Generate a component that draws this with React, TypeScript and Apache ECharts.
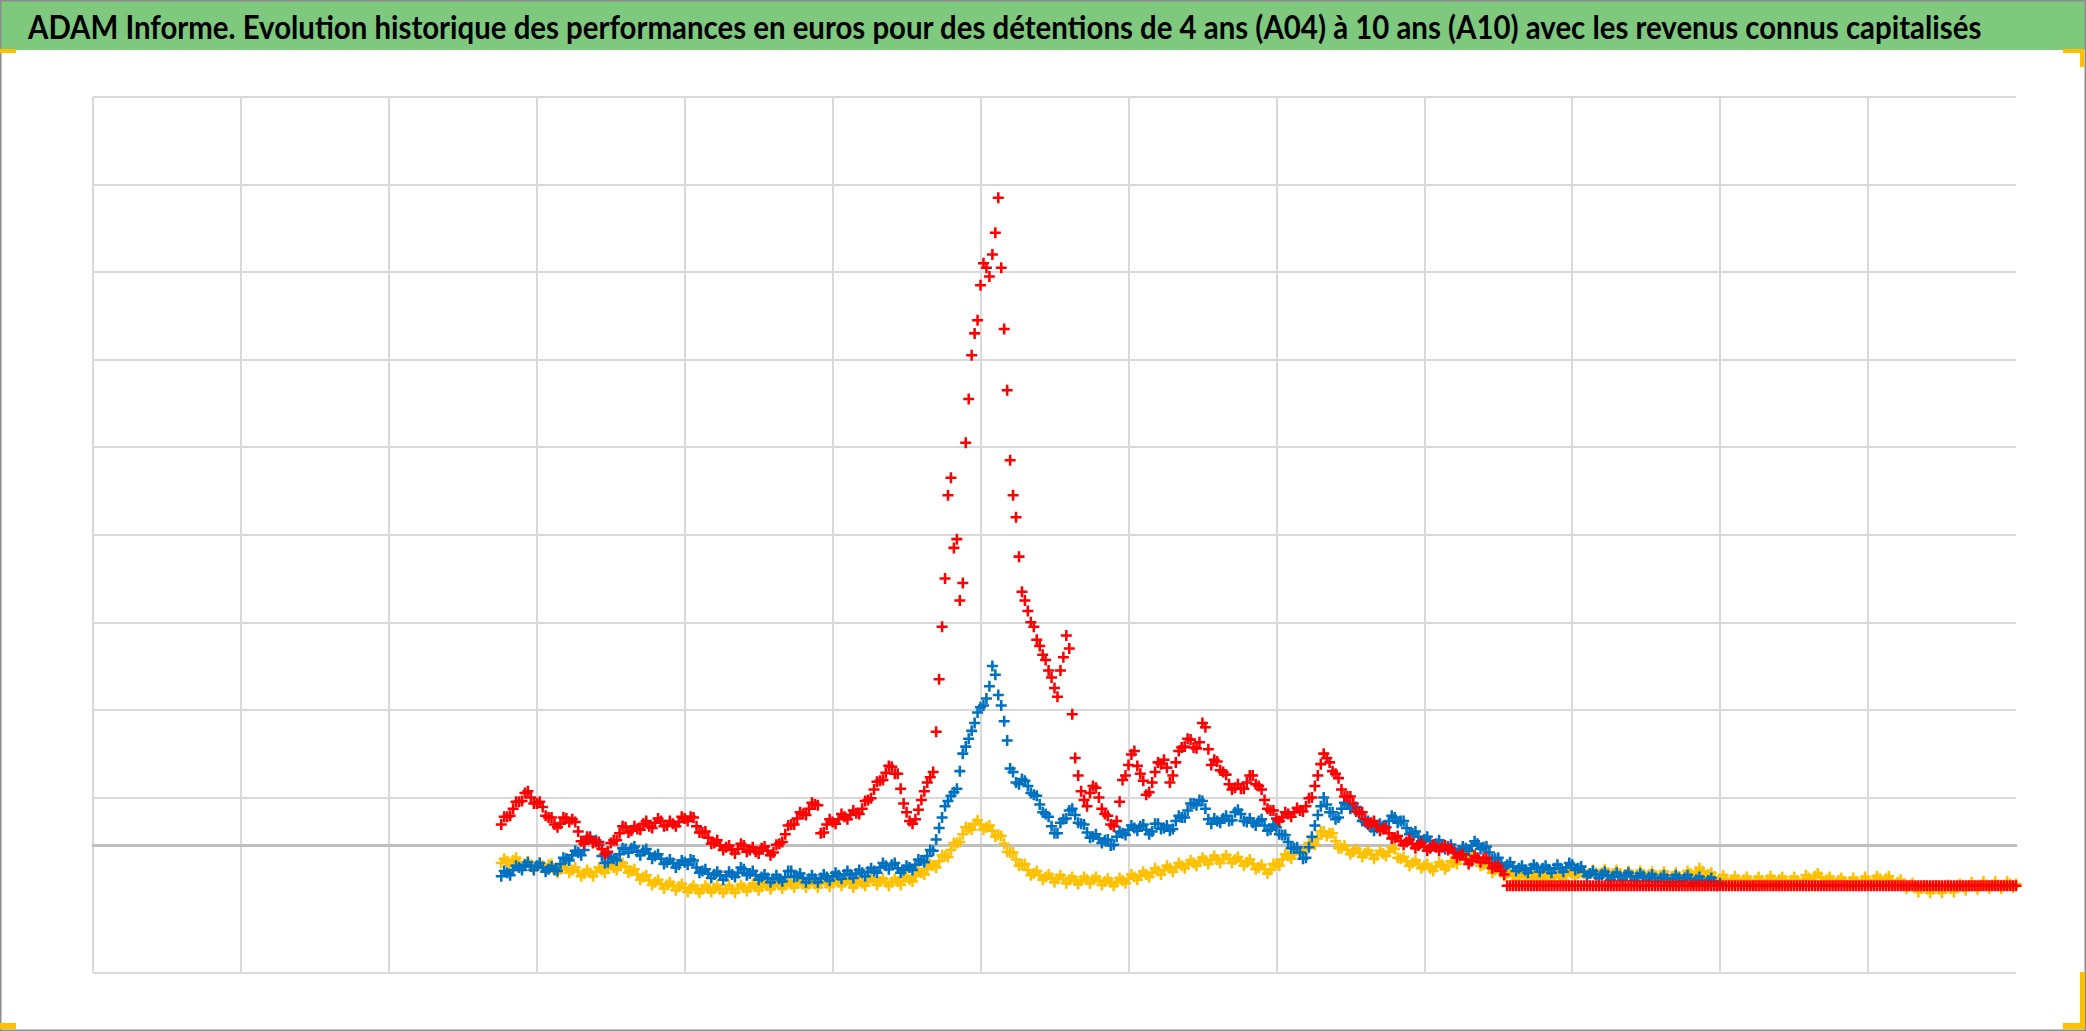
import React, { useEffect, useRef } from "react";
import * as echarts from "echarts";

const TITLE =
  "ADAM Informe. Evolution historique des performances en euros pour des détentions de 4 ans (A04) à 10 ans (A10) avec les revenus connus capitalisés";

// x positions: regular sampling along the horizontal axis (13 grid intervals)
const X_START = 2.76;
const X_STEP = 0.02;

// Yellow series (A04)
const A04 = [
  -20, -15, -18, -22, -17, -14, -19, -24, -21, -18, -22, -27, -24, -20, -23, -27, -22, -21, -27, -31,
  -27, -23, -26, -31, -28, -25, -30, -35, -32, -28, -31, -35, -30, -25, -28, -31, -26, -22, -25, -28,
  -23, -20, -24, -31, -29, -27, -33, -39, -36, -34, -40, -45, -42, -39, -44, -49, -45, -42, -46, -51,
  -47, -44, -48, -53, -49, -46, -50, -54, -50, -46, -49, -53, -49, -46, -50, -54, -50, -46, -50, -54,
  -49, -45, -48, -52, -48, -44, -47, -51, -47, -43, -46, -50, -46, -42, -45, -49, -45, -41, -44, -48,
  -43, -40, -44, -48, -44, -40, -44, -48, -43, -39, -43, -47, -43, -39, -42, -46, -42, -39, -43, -48,
  -44, -40, -43, -46, -41, -37, -40, -45, -41, -38, -42, -46, -42, -38, -41, -45, -40, -36, -39, -41,
  -35, -29, -31, -33, -27, -21, -23, -25, -18, -11, -12, -13, -5, 3, 3, 4, 13, 21, 20, 18,
  25, 29, 24, 18, 21, 23, 17, 10, 12, 11, 2, -7, -8, -8, -16, -23, -22, -21, -28, -34,
  -32, -29, -34, -39, -36, -33, -37, -42, -38, -34, -38, -43, -39, -36, -40, -44, -40, -36, -39, -43,
  -39, -36, -40, -45, -41, -38, -42, -46, -42, -37, -40, -43, -38, -33, -36, -39, -34, -30, -33, -36,
  -31, -26, -29, -33, -28, -23, -26, -30, -25, -20, -23, -26, -21, -17, -20, -23, -18, -14, -17, -21,
  -16, -12, -16, -20, -15, -11, -15, -20, -16, -13, -18, -23, -19, -16, -21, -27, -25, -22, -27, -32,
  -28, -21, -21, -23, -16, -10, -12, -15, -10, -5, -8, -10, -4, 3, 2, 1, 8, 16, 16, 11,
  14, 14, 5, -3, -3, 0, -5, -10, -7, -4, -8, -13, -9, -6, -10, -15, -11, -6, -9, -12,
  -7, -2, -4, -14, -15, -13, -18, -23, -20, -17, -21, -26, -23, -21, -26, -29, -24, -19, -22, -27,
  -24, -18, -19, -21, -14, -9, -12, -17, -13, -10, -15, -23, -22, -20, -25, -31, -28, -25, -30, -35,
  -32, -30, -35, -39, -35, -32, -36, -40, -36, -33, -37, -41, -37, -33, -37, -41, -36, -32, -36, -39,
  -34, -29, -32, -36, -32, -28, -32, -36, -32, -28, -31, -35, -31, -27, -31, -36, -32, -28, -32, -37,
  -33, -29, -33, -37, -33, -29, -33, -37, -33, -30, -34, -38, -34, -30, -34, -39, -35, -31, -35, -39,
  -34, -29, -32, -35, -30, -26, -29, -35, -33, -31, -36, -41, -38, -34, -38, -43, -39, -35, -39, -43,
  -39, -36, -40, -44, -40, -36, -40, -44, -39, -35, -39, -43, -39, -36, -40, -44, -40, -36, -40, -44,
  -39, -34, -37, -40, -35, -32, -36, -42, -39, -36, -40, -44, -40, -37, -41, -45, -41, -37, -41, -45,
  -40, -36, -40, -44, -39, -35, -38, -42, -38, -35, -40, -45, -42, -39, -44, -49, -46, -43, -48, -53,
  -49, -46, -50, -54, -50, -46, -50, -54, -49, -45, -49, -53, -48, -44, -47, -51, -46, -42, -46, -50,
  -45, -41, -45, -49, -45, -41, -45, -49, -45, -41, -44, -48, -44,
];

// Blue series (A07)
const A07 = [
  -35, -29, -31, -34, -28, -23, -25, -28, -22, -19, -24, -28, -23, -20, -25, -30, -27, -24, -28, -29,
  -21, -14, -15, -17, -11, -6, -8, -11, -5, 7, 10, 4, 6, 1, -12, -20, -19, -13, -15, -17,
  -10, -3, -4, -8, -3, -1, -7, -11, -6, -4, -9, -15, -12, -10, -15, -21, -19, -16, -20, -25,
  -22, -17, -19, -22, -16, -17, -25, -31, -29, -27, -32, -37, -33, -30, -34, -39, -35, -30, -33, -36,
  -31, -25, -27, -34, -32, -29, -34, -39, -36, -33, -37, -42, -38, -34, -38, -41, -36, -29, -29, -36,
  -35, -32, -37, -42, -38, -34, -38, -42, -37, -33, -36, -40, -35, -31, -34, -38, -33, -29, -33, -37,
  -32, -28, -31, -35, -30, -26, -29, -31, -25, -20, -23, -27, -22, -20, -26, -31, -28, -23, -25, -28,
  -22, -16, -17, -19, -12, -5, -6, 7, 20, 32, 45, 51, 57, 61, 65, 85, 105, 113, 122, 131,
  140, 152, 158, 160, 168, 182, 205, 195, 172, 160, 142, 120, 88, 84, 72, 70, 76, 74, 68, 60,
  58, 57, 47, 38, 36, 33, 22, 14, 14, 26, 30, 31, 40, 42, 35, 26, 25, 24, 15, 9,
  10, 13, 8, 3, 6, 7, 0, 1, 10, 16, 14, 12, 18, 23, 20, 17, 22, 24, 18, 13,
  16, 25, 25, 19, 20, 23, 17, 19, 28, 34, 32, 32, 40, 48, 48, 46, 52, 51, 42, 30,
  25, 31, 28, 26, 31, 34, 28, 29, 38, 41, 36, 28, 27, 31, 26, 23, 28, 30, 23, 17,
  18, 24, 21, 13, 12, 12, 4, -3, -3, -2, -8, -15, -14, -2, 10, 23, 35, 45, 55, 47,
  38, 38, 30, 32, 42, 49, 47, 42, 44, 44, 36, 28, 27, 28, 21, 17, 20, 25, 22, 21,
  28, 34, 32, 26, 28, 28, 20, 13, 14, 16, 10, 5, 7, 10, 5, 0, 2, 6, 1, -4,
  -1, 1, -4, -9, -6, -1, -3, -6, 0, 5, 2, -4, -2, -1, -8, -16, -15, -14, -20, -25,
  -22, -19, -24, -29, -26, -23, -28, -31, -26, -22, -25, -30, -26, -23, -27, -31, -26, -22, -26, -30,
  -25, -20, -22, -28, -26, -24, -30, -35, -32, -29, -33, -37, -33, -30, -34, -39, -35, -31, -35, -39,
  -34, -31, -35, -40, -36, -32, -35, -40, -36, -33, -37, -41, -37, -34, -38, -42, -38, -34, -37, -41,
  -37, -34, -38, -43, -39, -36, -40, -44, -40, -37, -41, -46, -43,
];

// Red series (A10)
const A10 = [
  24, 33, 33, 34, 42, 50, 50, 51, 60, 62, 55, 48, 48, 50, 44, 34, 32, 32, 24, 21,
  25, 32, 31, 27, 30, 27, 16, 5, 2, 10, 9, 3, 4, 4, -4, -10, -7, 3, 6, 6,
  14, 22, 21, 15, 17, 22, 19, 18, 25, 28, 22, 20, 26, 31, 28, 22, 23, 28, 25, 22,
  27, 33, 31, 28, 33, 32, 22, 15, 15, 16, 9, 2, 3, 6, 0, -5, -2, 0, -5, -9,
  -4, 2, 0, -7, -5, -2, -7, -9, -3, -1, -6, -11, -8, 1, 2, 4, 13, 23, 24, 24,
  31, 38, 36, 35, 42, 49, 47, 46, 14, 15, 24, 30, 27, 25, 30, 36, 33, 30, 35, 40,
  37, 36, 42, 51, 52, 54, 64, 73, 74, 75, 83, 91, 90, 82, 82, 65, 48, 38, 28, 25,
  30, 41, 52, 62, 72, 78, 84, 130, 190, 250, 305, 400, 420, 340, 350, 280, 300, 460, 510, 560,
  585, 600, 640, 665, 660, 650, 675, 700, 740, 660, 590, 520, 440, 400, 375, 330, 290, 280, 268, 255,
  250, 235, 228, 218, 212, 200, 192, 180, 170, 200, 215, 240, 225, 150, 100, 80, 62, 52, 45, 60,
  68, 66, 55, 42, 36, 34, 24, 22, 28, 50, 75, 80, 92, 104, 108, 91, 82, 74, 58, 61,
  72, 84, 95, 93, 98, 89, 72, 80, 95, 108, 112, 113, 122, 121, 112, 111, 118, 140, 135, 110,
  92, 98, 96, 86, 84, 81, 70, 64, 66, 70, 65, 65, 72, 80, 80, 70, 68, 64, 52, 42,
  40, 40, 31, 28, 32, 38, 36, 33, 38, 43, 40, 39, 45, 54, 55, 68, 80, 93, 105, 100,
  95, 85, 82, 77, 64, 56, 56, 56, 48, 39, 38, 38, 30, 24, 26, 28, 22, 17, 19, 21,
  14, 8, 9, 11, 5, 1, 4, 7, 2, -3, 0, 3, -1, -6, -3, 1, -2, -6, -2, 0,
  -5, -3, -8, -14, -11, -10, -16, -21, -18, -12, -14, -19, -15, -14, -20, -26, -24, -23, -29, -33,
  -46, -46, -46, -46, -46, -46, -46, -46, -46, -46, -46, -46, -46, -46, -46, -46, -46, -46, -46, -46,
  -46, -46, -46, -46, -46, -46, -46, -46, -46, -46, -46, -46, -46, -46, -46, -46, -46, -46, -46, -46,
  -46, -46, -46, -46, -46, -46, -46, -46, -46, -46, -46, -46, -46, -46, -46, -46, -46, -46, -46, -46,
  -46, -46, -46, -46, -46, -46, -46, -46, -46, -46, -46, -46, -46, -46, -46, -46, -46, -46, -46, -46,
  -46, -46, -46, -46, -46, -46, -46, -46, -46, -46, -46, -46, -46, -46, -46, -46, -46, -46, -46, -46,
  -46, -46, -46, -46, -46, -46, -46, -46, -46, -46, -46, -46, -46, -46, -46, -46, -46, -46, -46, -46,
  -46, -46, -46, -46, -46, -46, -46, -46, -46, -46, -46, -46, -46, -46, -46, -46, -46, -46, -46, -46,
  -46, -46, -46, -46, -46, -46, -46, -46, -46, -46, -46, -46, -46, -46, -46, -46, -46, -46, -46, -46,
  -46, -46, -46, -46, -46, -46, -46, -46, -46, -46, -46, -46, -46,
];

const SERIES = [
  { name: "A04", color: "#FFC000", values: A04 },
  { name: "A07", color: "#0070C0", values: A07 },
  { name: "A10", color: "#FF0000", values: A10 },
];

const PLUS = "path://M3.85,0H6.15V3.85H10V6.15H6.15V10H3.85V6.15H0V3.85H3.85Z";

const W = 2086;
const H = 1031;

export default function App() {
  const ref = useRef<HTMLDivElement>(null);

  useEffect(() => {
    if (!ref.current) return;
    const chart = echarts.init(ref.current, undefined, { renderer: "svg", width: W, height: H });

    const canvas = document.createElement("canvas");
    const ctx = canvas.getContext("2d");
    const titleFont = 'bold 32px Lato, "Open Sans", sans-serif';
    let sx = 1;
    if (ctx) {
      ctx.font = titleFont;
      const w = ctx.measureText(TITLE).width;
      if (w > 0) sx = 1954 / w;
    }

    const toPoints = (vals: number[]) =>
      vals.map((v, i) => [Number((X_START + i * X_STEP).toFixed(2)), v]);

    const gridColors: string[] = [];
    for (let i = 0; i <= 10; i++) gridColors.push(i === 1 ? "rgba(0,0,0,0)" : "#d9d9d9");

    chart.setOption({
      animation: false,
      backgroundColor: "#ffffff",
      grid: { left: 93, top: 97, width: 1923, height: 875.5, containLabel: false },
      xAxis: {
        type: "value",
        min: 0,
        max: 13,
        interval: 1,
        axisLabel: { show: false },
        axisTick: { show: false },
        axisLine: { show: true, onZero: true, onZeroAxisIndex: 0, lineStyle: { color: "#bfbfbf", width: 3 } },
        splitLine: { show: true, showMinLine: true, showMaxLine: false, lineStyle: { color: "#d9d9d9", width: 2 } },
      },
      yAxis: [
        {
          type: "value",
          min: -145,
          max: 855,
          axisLabel: { show: false },
          axisTick: { show: false },
          axisLine: { show: false },
          splitLine: { show: false },
        },
        {
          type: "value",
          position: "left",
          min: 0,
          max: 1000,
          interval: 100,
          axisLabel: { show: false },
          axisTick: { show: false },
          axisLine: { show: false },
          splitLine: { show: true, lineStyle: { color: gridColors, width: 2 } },
        },
      ],
      series: SERIES.map((s, k) => ({
        name: s.name,
        type: "scatter",
        yAxisIndex: 0,
        symbol: PLUS,
        symbolSize: 11,
        silent: true,
        z: 2 + k,
        itemStyle: { color: s.color, opacity: 1 },
        data: toPoints(s.values),
      })),
      graphic: [
        { type: "rect", z: 1, shape: { x: 0, y: 0, width: W, height: 50 }, style: { fill: "#7fc97f" } },
        {
          type: "text",
          z: 10,
          x: 28,
          y: 27,
          scaleX: sx,
          style: {
            text: TITLE,
            font: titleFont,
            fill: "#000000",
            align: "left",
            verticalAlign: "middle",
          },
        },
        { type: "rect", z: 20, shape: { x: 0.75, y: 0.75, width: W - 1.5, height: H - 1.5 }, style: { fill: "none", stroke: "#8c8c8c", lineWidth: 1.5 } },
        { type: "rect", z: 21, shape: { x: 0, y: 49, width: 16, height: 4 }, style: { fill: "#ffc000" } },
        { type: "rect", z: 21, shape: { x: 2063, y: 49, width: 21, height: 4 }, style: { fill: "#ffc000" } },
        { type: "rect", z: 21, shape: { x: 2080, y: 49, width: 4, height: 18 }, style: { fill: "#ffc000" } },
        { type: "rect", z: 21, shape: { x: 0, y: 1023, width: 16, height: 6 }, style: { fill: "#ffc000" } },
        { type: "rect", z: 21, shape: { x: 2063, y: 1023, width: 21, height: 6 }, style: { fill: "#ffc000" } },
        { type: "rect", z: 21, shape: { x: 2080, y: 972, width: 5, height: 57 }, style: { fill: "#ffc000" } },
      ],
    });

    return () => chart.dispose();
  }, []);

  return (
    <div
      ref={ref}
      style={{ position: "fixed", left: 0, top: 0, width: W, height: H, background: "#ffffff" }}
    />
  );
}
